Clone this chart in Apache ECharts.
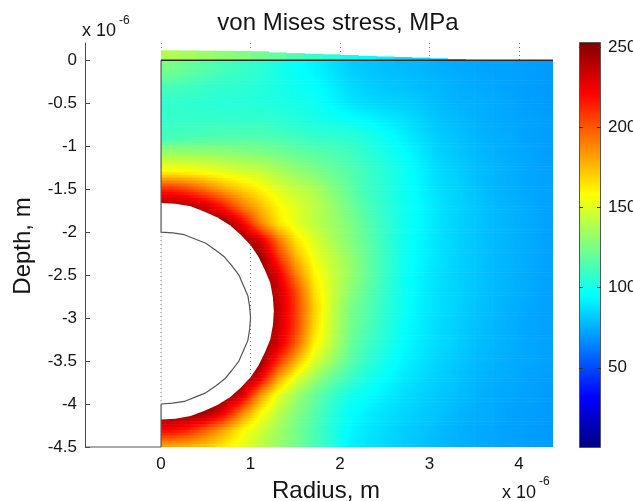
<!DOCTYPE html>
<html>
<head>
<meta charset="utf-8">
<title>von Mises stress, MPa</title>
<script src="https://cdn.jsdelivr.net/npm/echarts@6/dist/echarts.min.js"></script>
<style>
  html, body { margin: 0; padding: 0; background: #fff; }
  #chart { width: 633px; height: 501px; }
</style>
</head>
<body>
<div id="chart"></div>
<script>
// grid nodes, in units of 1e-6 m
const radius = [0.1, 0.3, 0.5, 0.7, 0.9, 1.1, 1.3, 1.5, 1.7, 1.9, 2.1, 2.3, 2.5, 2.7, 2.9, 3.1, 3.3, 3.5, 3.7, 3.9, 4.1, 4.3]
const depth = [-0.1, -0.3, -0.5, -0.7, -0.9, -1.1, -1.3, -1.5, -1.7, -1.9, -2.1, -2.3, -2.5, -2.7, -2.9, -3.1, -3.3, -3.5, -3.7, -3.9, -4.1, -4.3, -4.5]

// von Mises stress (MPa), one row per depth, null = inside the cavity
const stress = [
  [125, 120, 116, 112, 109, 106, 101, 96, 93, 88, 83, 81, 79, 78, 77, 75, 74, 73, 72, 72, 71, 70],
  [113, 111, 109, 107, 106, 104, 101, 98, 96, 91, 86, 83, 81, 80, 78, 77, 75, 74, 73, 72, 71, 70],
  [107, 106, 105, 104, 104, 103, 102, 100, 98, 94, 89, 86, 84, 83, 81, 78, 76, 75, 74, 73, 71, 70],
  [108, 108, 108, 108, 108, 108, 106, 104, 101, 99, 97, 94, 91, 88, 84, 80, 78, 76, 74, 73, 72, 71],
  [112, 113, 114, 115, 115, 115, 113, 111, 108, 107, 106, 102, 97, 92, 87, 82, 80, 77, 75, 74, 72, 71],
  [136, 135, 134, 132, 130, 128, 125, 121, 118, 115, 112, 106, 101, 96, 90, 84, 81, 78, 76, 74, 73, 71],
  [160, 159, 156, 152, 148, 145, 138, 132, 127, 121, 116, 110, 104, 98, 92, 86, 83, 79, 77, 75, 73, 72],
  [212, 205, 193, 180, 170, 160, 150, 143, 138, 128, 119, 110, 105, 98, 93, 87, 84, 80, 77, 75, 73, 72],
  [245, 242, 232, 215, 192, 175, 160, 150, 142, 133, 123, 113, 106, 99, 94, 88, 84, 81, 78, 76, 74, 72],
  [null, null, 250, 250, 225, 190, 165, 152, 142, 134, 127, 116, 108, 99, 94, 88, 84, 81, 78, 76, 74, 72],
  [null, null, null, null, 250, 232, 195, 165, 150, 138, 128, 118, 108, 99, 93, 88, 84, 81, 78, 76, 74, 72],
  [null, null, null, null, null, 250, 212, 178, 155, 143, 132, 120, 109, 99, 93, 88, 84, 81, 78, 76, 74, 72],
  [null, null, null, null, null, 250, 230, 192, 162, 146, 134, 120, 109, 98, 92, 87, 84, 81, 78, 76, 74, 72],
  [null, null, null, null, null, null, 236, 206, 168, 146, 130, 118, 107, 98, 92, 87, 84, 81, 78, 76, 74, 72],
  [null, null, null, null, null, null, 237, 208, 172, 145, 126, 116, 106, 98, 91, 87, 84, 80, 78, 75, 73, 72],
  [null, null, null, null, null, null, 236, 207, 170, 144, 125, 114, 105, 96, 91, 86, 83, 80, 77, 75, 73, 72],
  [null, null, null, null, null, 250, 232, 200, 162, 142, 122, 111, 103, 95, 90, 86, 83, 79, 77, 75, 73, 72],
  [null, null, null, null, null, 250, 212, 178, 150, 134, 118, 107, 99, 93, 88, 84, 81, 78, 76, 74, 73, 72],
  [null, null, null, null, 250, 228, 182, 152, 134, 120, 110, 101, 95, 90, 86, 83, 80, 77, 75, 74, 72, 71],
  [null, null, null, 250, 232, 185, 152, 134, 121, 109, 100, 95, 91, 87, 84, 81, 79, 76, 74, 73, 72, 70],
  [250, 250, 246, 226, 190, 160, 142, 128, 117, 105, 96, 91, 88, 85, 82, 80, 77, 75, 74, 72, 71, 70],
  [222, 214, 198, 180, 160, 147, 135, 124, 114, 103, 94, 89, 86, 83, 81, 78, 76, 74, 73, 72, 71, 70],
  [178, 175, 170, 162, 152, 142, 132, 124, 114, 104, 92, 88, 85, 82, 80, 77, 75, 74, 73, 72, 71, 70]
]
// stress shown right at the cavity wall (nodes inside the cavity end up under the white fill)
const cavityWall = 250

// deformed surface above depth 0: top edge and stress for the first 17 columns
const bulgeTop = [0.115, 0.113, 0.111, 0.11, 0.108, 0.104, 0.09, 0.082, 0.075, 0.068, 0.06, 0.05, 0.043, 0.037, 0.03, 0.022, 0.014]
const bulgeStress = [138, 136, 133, 130, 127, 123, 119, 114, 109, 104, 99, 95, 91, 88, 86, 84, 83]

// cavity (white) and inclusion outline
const cavity = [[0, -1.66], [0.16, -1.67], [0.33, -1.7], [0.48, -1.76], [0.63, -1.83], [0.77, -1.92], [0.89, -2.03],
  [1, -2.15], [1.09, -2.29], [1.16, -2.44], [1.22, -2.59], [1.25, -2.76], [1.26, -2.92], [1.25, -3.08], [1.22, -3.25],
  [1.16, -3.4], [1.09, -3.55], [1, -3.69], [0.89, -3.81], [0.77, -3.92], [0.63, -4.01], [0.48, -4.08], [0.33, -4.14],
  [0.16, -4.17], [0, -4.18]]
const inclusion = [[0, -2], [0.13, -2.01], [0.26, -2.03], [0.38, -2.08], [0.5, -2.13], [0.61, -2.21], [0.71, -2.29],
  [0.79, -2.39], [0.87, -2.5], [0.92, -2.62], [0.97, -2.74], [0.99, -2.87], [1, -3], [0.99, -3.13], [0.97, -3.26],
  [0.92, -3.38], [0.87, -3.5], [0.79, -3.61], [0.71, -3.71], [0.61, -3.79], [0.5, -3.87], [0.38, -3.92], [0.26, -3.97],
  [0.13, -3.99], [0, -4]]
// grid lines that show through the cavity
const holeGrid = [[[0, -2], [0, -4]], [[1, -2.15], [1, -3.69]]]

const xTicks = [0, 1, 2, 3, 4]
const yTicks = [-4.5, -4, -3.5, -3, -2.5, -2, -1.5, -1, -0.5, 0]
const barTicks = [50, 100, 150, 200, 250]
const stressMin = 0
const stressMax = 253
const xMin = -0.85
const xMax = 4.38
// MATLAB jet, evenly spaced stops
const jet = ['#000080', '#0000ff', '#0080ff', '#00ffff', '#80ff80', '#ffff00', '#ff8000', '#ff0000', '#800000']

const FONT = '"Liberation Sans", Arial, Helvetica, sans-serif'
const TEXT = '#151515'
const AXIS = '#4a4a4a'
const SUB = 6 // strips per row gap, for smooth ("interp") shading

// one item per grid node: [radius, depth, row, col]
const nodes = []
depth.forEach((y, i) => {
  radius.forEach((x, j) => {
    nodes.push([x, y, i, j])
  })
})
const bulge = bulgeTop.map((t, j) => [radius[j], t, bulgeStress[j]])
const outline = [[0, 0]].concat(inclusion, [[0, -4.5], [xMin, -4.5]])

function nodeValue(i, j) {
  const v = stress[i][j]
  return v === null ? cavityWall : v
}

function colorOf(v) {
  return echarts.color.lerp((v - stressMin) / (stressMax - stressMin), jet)
}

// gradient from value a to value b that follows the colormap breakpoints
function stopsBetween(a, b) {
  const stops = [{ offset: 0, color: colorOf(a) }]
  if (b !== a) {
    const step = (stressMax - stressMin) / (jet.length - 1)
    for (let k = 1; k < jet.length - 1; k++) {
      const t = (stressMin + k * step - a) / (b - a)
      if (t > 0 && t < 1) stops.push({ offset: t, color: jet[k] })
    }
    stops.sort((p, q) => p.offset - q.offset)
  }
  stops.push({ offset: 1, color: colorOf(b) })
  return stops
}

// each node shades the patch down and to the right of it
function renderField(params, api) {
  const i = api.value(2)
  const j = api.value(3)
  const last = radius.length - 1
  const spans = []
  if (j === 0) spans.push([0, radius[0], 0, 0])
  spans.push(j < last ? [radius[j], radius[j + 1], j, j + 1] : [radius[j], xMax, j, j])
  const bands = []
  if (i === 0) bands.push([0, depth[0], 0, 0])
  if (i < depth.length - 1) bands.push([depth[i], depth[i + 1], i, i + 1])

  const children = []
  bands.forEach(([y0, y1, it, ib]) => {
    spans.forEach(([x0, x1, jl, jr]) => {
      for (let k = 0; k < SUB; k++) {
        const f = (k + 0.5) / SUB
        const ya = y0 + (y1 - y0) * k / SUB
        const yb = y0 + (y1 - y0) * (k + 1) / SUB
        const vl = nodeValue(it, jl) + (nodeValue(ib, jl) - nodeValue(it, jl)) * f
        const vr = nodeValue(it, jr) + (nodeValue(ib, jr) - nodeValue(it, jr)) * f
        const p0 = api.coord([x0, ya])
        const p1 = api.coord([x1, yb])
        const padX = x1 === xMax ? 0 : 0.6
        const padY = (i === depth.length - 2 && k === SUB - 1) ? 0 : 0.6
        children.push({
          type: 'rect',
          shape: { x: p0[0], y: p0[1], width: p1[0] - p0[0] + padX, height: p1[1] - p0[1] + padY },
          style: { fill: new echarts.graphic.LinearGradient(0, 0, 1, 0, stopsBetween(vl, vr)) }
        })
      }
    })
  })
  return { type: 'group', children: children }
}

function renderBulge(params, api) {
  const x = api.value(0)
  const a = api.coord([x - 0.1, api.value(1)])
  const b = api.coord([x + 0.1, 0])
  return {
    type: 'rect',
    shape: { x: a[0], y: a[1], width: b[0] - a[0] + 0.7, height: b[1] - a[1] + 0.5 },
    style: { fill: colorOf(api.value(2)) }
  }
}

function renderCavity(params, api) {
  return {
    type: 'polygon',
    shape: { points: cavity.map(p => api.coord(p)) },
    style: { fill: '#ffffff' }
  }
}

const chart = echarts.init(document.getElementById('chart'))

const option = {
  animation: false,
  backgroundColor: '#ffffff',
  textStyle: { fontFamily: FONT },
  grid: [
    { left: 85, top: 43, width: 468, height: 404, outerBoundsMode: 'none' },
    { left: 579, top: 42, width: 22, height: 406, outerBoundsMode: 'none' }
  ],
  xAxis: [
    {
      type: 'value',
      gridIndex: 0,
      min: xMin,
      max: xMax,
      axisLine: { show: false, onZero: false },
      axisTick: { show: true, inside: true, length: 5, customValues: xTicks, lineStyle: { color: AXIS } },
      axisLabel: {
        customValues: xTicks,
        formatter: v => String(v),
        margin: 9,
        fontSize: 17,
        color: TEXT,
        fontFamily: FONT
      },
      splitLine: { show: true, lineStyle: { type: [1, 3], color: '#7a7a7a', width: 1 } }
    },
    {
      type: 'category',
      gridIndex: 1,
      data: ['stress'],
      show: false
    }
  ],
  yAxis: [
    {
      type: 'value',
      gridIndex: 0,
      min: -4.5,
      max: 0.2,
      axisLine: { show: true, onZero: false, lineStyle: { color: AXIS, width: 1 } },
      axisTick: { show: true, inside: true, length: 5, customValues: yTicks, lineStyle: { color: AXIS } },
      axisLabel: {
        customValues: yTicks,
        formatter: v => String(v),
        margin: 8,
        fontSize: 17,
        color: TEXT,
        fontFamily: FONT
      },
      splitLine: { show: false }
    },
    {
      type: 'value',
      gridIndex: 1,
      position: 'right',
      min: stressMin,
      max: stressMax,
      z: 10,
      axisLine: { show: false, onZero: false },
      axisTick: { show: true, inside: true, length: 4, customValues: barTicks, lineStyle: { color: '#333' } },
      axisLabel: { customValues: barTicks, margin: 7, fontSize: 17, color: TEXT, fontFamily: FONT },
      splitLine: { show: false }
    },
    {
      type: 'value',
      gridIndex: 1,
      position: 'left',
      min: stressMin,
      max: stressMax,
      z: 10,
      axisLine: { show: false, onZero: false },
      axisTick: { show: true, inside: true, length: 4, customValues: barTicks, lineStyle: { color: '#333' } },
      axisLabel: { show: false },
      splitLine: { show: false }
    }
  ],
  series: [
    {
      name: 'stress',
      type: 'custom',
      xAxisIndex: 0,
      yAxisIndex: 0,
      renderItem: renderField,
      encode: { x: 0, y: 1 },
      data: nodes,
      silent: true,
      z: 2
    },
    {
      name: 'surface',
      type: 'custom',
      xAxisIndex: 0,
      yAxisIndex: 0,
      renderItem: renderBulge,
      encode: { x: 0, y: 1 },
      data: bulge,
      silent: true,
      z: 2
    },
    {
      name: 'cavity',
      type: 'custom',
      xAxisIndex: 0,
      yAxisIndex: 0,
      renderItem: renderCavity,
      data: [0],
      silent: true,
      z: 3
    },
    ...holeGrid.map(seg => ({
      type: 'line',
      xAxisIndex: 0,
      yAxisIndex: 0,
      data: seg,
      symbol: 'none',
      silent: true,
      lineStyle: { type: [1, 3], color: '#7a7a7a', width: 1 },
      z: 4
    })),
    {
      name: 'outline',
      type: 'line',
      xAxisIndex: 0,
      yAxisIndex: 0,
      data: outline,
      symbol: 'none',
      clip: false,
      silent: true,
      lineStyle: { color: '#555555', width: 1.2 },
      z: 5
    },
    {
      name: 'top',
      type: 'line',
      xAxisIndex: 0,
      yAxisIndex: 0,
      data: [[0, 0], [xMax, 0]],
      symbol: 'none',
      clip: false,
      silent: true,
      lineStyle: { color: '#2a2a2a', width: 1.6 },
      z: 5
    },
    {
      name: 'colorbar',
      type: 'bar',
      xAxisIndex: 1,
      yAxisIndex: 1,
      data: [stressMax],
      barWidth: '100%',
      silent: true,
      itemStyle: {
        color: new echarts.graphic.LinearGradient(0, 1, 0, 0,
          jet.map((c, i) => ({ offset: i / (jet.length - 1), color: c }))),
        borderColor: '#555555',
        borderWidth: 1
      }
    }
  ],
  graphic: [
    {
      type: 'text',
      x: 338,
      y: 23,
      style: { text: 'von Mises stress, MPa', fill: TEXT, font: '24px ' + FONT, align: 'center', verticalAlign: 'middle' }
    },
    {
      type: 'text',
      x: 82,
      y: 31,
      style: { text: 'x 10', fill: TEXT, font: '18px ' + FONT, align: 'left', verticalAlign: 'middle' }
    },
    {
      type: 'text',
      x: 119,
      y: 21,
      style: { text: '-6', fill: TEXT, font: '12px ' + FONT, align: 'left', verticalAlign: 'middle' }
    },
    {
      type: 'text',
      x: 23,
      y: 246,
      rotation: Math.PI / 2,
      style: { text: 'Depth, m', fill: TEXT, font: '24px ' + FONT, align: 'center', verticalAlign: 'middle' }
    },
    {
      type: 'text',
      x: 326,
      y: 491,
      style: { text: 'Radius, m', fill: TEXT, font: '24px ' + FONT, align: 'center', verticalAlign: 'middle' }
    },
    {
      type: 'text',
      x: 502,
      y: 493,
      style: { text: 'x 10', fill: TEXT, font: '18px ' + FONT, align: 'left', verticalAlign: 'middle' }
    },
    {
      type: 'text',
      x: 539,
      y: 482,
      style: { text: '-6', fill: TEXT, font: '12px ' + FONT, align: 'left', verticalAlign: 'middle' }
    }
  ]
}

chart.setOption(option)
</script>
</body>
</html>
